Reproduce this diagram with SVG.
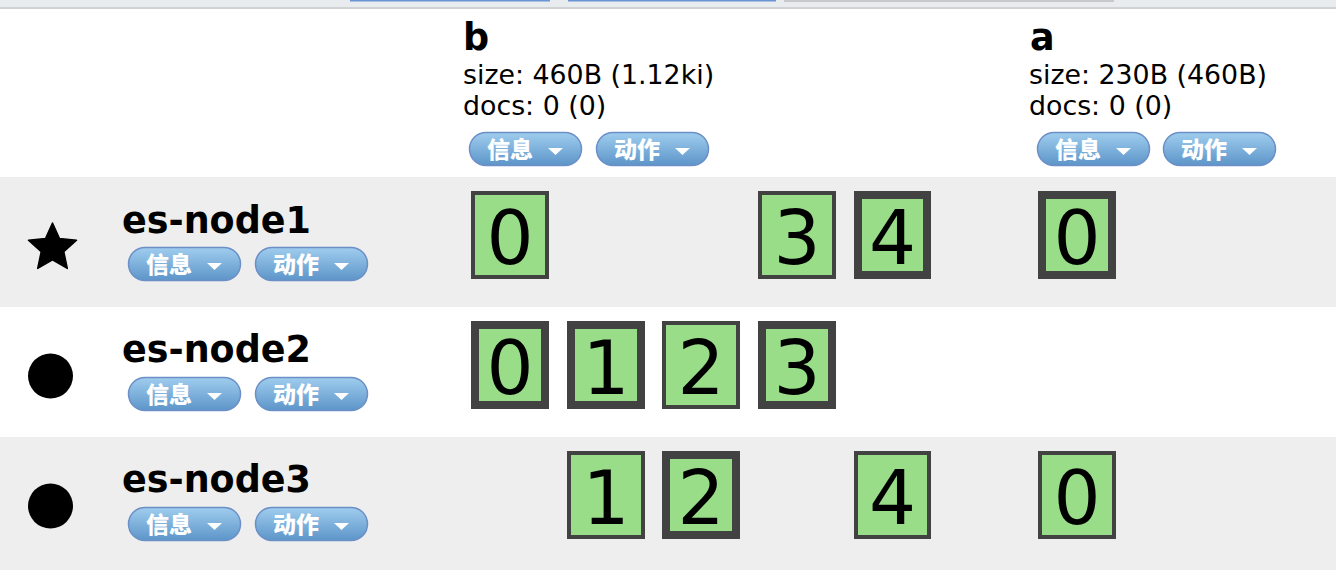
<svg xmlns="http://www.w3.org/2000/svg" width="1336" height="570" viewBox="0 0 1336 570">
<defs>
<linearGradient id="btnGrad" x1="0" y1="0" x2="0" y2="1">
<stop offset="0" stop-color="#9fcdee"/>
<stop offset="1" stop-color="#5d95c9"/>
</linearGradient>
<style>
.btn{fill:url(#btnGrad);stroke:#6c8fc7;stroke-width:1.5}
.bt{font-family:"Noto Sans CJK SC","DejaVu Sans",sans-serif;font-weight:900;font-size:23px;fill:#ffffff}
.tri{fill:#ffffff}
.title{font-family:"DejaVu Sans",Verdana,sans-serif;font-weight:bold;font-size:36.5px;fill:#000}
.info{font-family:"DejaVu Sans",Verdana,sans-serif;font-size:26.8px;fill:#000}
.sh{fill:#99dd88;stroke:#424242}
.thin{stroke-width:4}
.thick{stroke-width:8}
.num{font-family:"DejaVu Sans",Verdana,sans-serif;font-size:74px;fill:#000;text-anchor:middle}
</style>
</defs>
<rect x="0" y="0" width="1336" height="570" fill="#ffffff"/>
<!-- top strip -->
<rect x="0" y="0" width="1336" height="7" fill="#e8ecef"/>
<rect x="0" y="7" width="1336" height="2" fill="#cfd3d6"/>
<rect x="350" y="0" width="200" height="1.5" fill="#6a95d4"/>
<rect x="568" y="0" width="208" height="1.5" fill="#6a95d4"/>
<rect x="784" y="0" width="330" height="2" fill="#c6c8ca"/>
<!-- rows -->
<rect x="0" y="177" width="1336" height="130" fill="#eeeeee"/>
<rect x="0" y="437" width="1336" height="133" fill="#eeeeee"/>

<!-- index headers -->
<g id="index-b">
<text class="title" x="463" y="50">b</text>
<text class="info" x="463" y="84">size: 460B (1.12ki)</text>
<text class="info" x="463" y="115">docs: 0 (0)</text>
<rect class="btn" x="469.5" y="132.5" width="112" height="33" rx="16.5"/>
<text class="bt" x="487" y="158">信息</text>
<polygon class="tri" points="548,148 563,148 555.5,155"/>
<rect class="btn" x="596.5" y="132.5" width="112" height="33" rx="16.5"/>
<text class="bt" x="614" y="158">动作</text>
<polygon class="tri" points="675,148 690,148 682.5,155"/>
</g>
<g id="index-a">
<text class="title" x="1030" y="50">a</text>
<text class="info" x="1029" y="84">size: 230B (460B)</text>
<text class="info" x="1029" y="115">docs: 0 (0)</text>
<rect class="btn" x="1037.5" y="132.5" width="112" height="33" rx="16.5"/>
<text class="bt" x="1055" y="158">信息</text>
<polygon class="tri" points="1116,148 1131,148 1123.5,155"/>
<rect class="btn" x="1163.5" y="132.5" width="112" height="33" rx="16.5"/>
<text class="bt" x="1181" y="158">动作</text>
<polygon class="tri" points="1242,148 1257,148 1249.5,155"/>
</g>

<!-- nodes -->
<g id="es-node1">
<polygon fill="#000" stroke="#000" stroke-width="1.5" stroke-linejoin="round" points="52.5,223 59.5,238.5 76.5,240.3 63.8,251.7 67.3,268.4 52.5,259.8 37.7,268.4 41.2,251.7 28.5,240.3 45.5,238.5"/>
<text class="title" x="122" y="233">es-node1</text>
<rect class="btn" x="128.5" y="247.5" width="112" height="33" rx="16.5"/>
<text class="bt" x="146" y="273">信息</text>
<polygon class="tri" points="207,263 222,263 214.5,270"/>
<rect class="btn" x="255.5" y="247.5" width="112" height="33" rx="16.5"/>
<text class="bt" x="273" y="273">动作</text>
<polygon class="tri" points="334,263 349,263 341.5,270"/>
</g>
<g id="es-node2">
<circle cx="50.5" cy="376" r="22.5" fill="#000"/>
<text class="title" x="122" y="362">es-node2</text>
<rect class="btn" x="128.5" y="377.5" width="112" height="33" rx="16.5"/>
<text class="bt" x="146" y="403">信息</text>
<polygon class="tri" points="207,393 222,393 214.5,400"/>
<rect class="btn" x="255.5" y="377.5" width="112" height="33" rx="16.5"/>
<text class="bt" x="273" y="403">动作</text>
<polygon class="tri" points="334,393 349,393 341.5,400"/>
</g>
<g id="es-node3">
<circle cx="50.5" cy="506" r="22.5" fill="#000"/>
<text class="title" x="122" y="492">es-node3</text>
<rect class="btn" x="128.5" y="507.5" width="112" height="33" rx="16.5"/>
<text class="bt" x="146" y="533">信息</text>
<polygon class="tri" points="207,523 222,523 214.5,530"/>
<rect class="btn" x="255.5" y="507.5" width="112" height="33" rx="16.5"/>
<text class="bt" x="273" y="533">动作</text>
<polygon class="tri" points="334,523 349,523 341.5,530"/>
</g>

<!-- shards row 1 -->
<g id="n1-b0"><rect class="sh thin" x="473" y="193" width="74" height="84"/><text class="num" x="510" y="264">0</text></g>
<g id="n1-b3"><rect class="sh thin" x="760" y="193" width="74" height="84"/><text class="num" x="797" y="264">3</text></g>
<g id="n1-b4"><rect class="sh thick" x="858" y="195" width="69" height="80"/><text class="num" x="892.5" y="264">4</text></g>
<g id="n1-a0"><rect class="sh thick" x="1042" y="195" width="70" height="80"/><text class="num" x="1077" y="264">0</text></g>
<!-- shards row 2 -->
<g id="n2-b0"><rect class="sh thick" x="475" y="325" width="70" height="80"/><text class="num" x="510" y="394">0</text></g>
<g id="n2-b1"><rect class="sh thick" x="571" y="325" width="70" height="80"/><text class="num" x="606" y="394">1</text></g>
<g id="n2-b2"><rect class="sh thin" x="664" y="323" width="74" height="84"/><text class="num" x="701" y="394">2</text></g>
<g id="n2-b3"><rect class="sh thick" x="762" y="325" width="70" height="80"/><text class="num" x="797" y="394">3</text></g>
<!-- shards row 3 -->
<g id="n3-b1"><rect class="sh thin" x="569" y="453" width="74" height="84"/><text class="num" x="606" y="524">1</text></g>
<g id="n3-b2"><rect class="sh thick" x="666" y="455" width="70" height="80"/><text class="num" x="701" y="524">2</text></g>
<g id="n3-b4"><rect class="sh thin" x="856" y="453" width="73" height="84"/><text class="num" x="892.5" y="524">4</text></g>
<g id="n3-a0"><rect class="sh thin" x="1040" y="453" width="74" height="84"/><text class="num" x="1077" y="524">0</text></g>
<g id="connectors"></g>
</svg>
